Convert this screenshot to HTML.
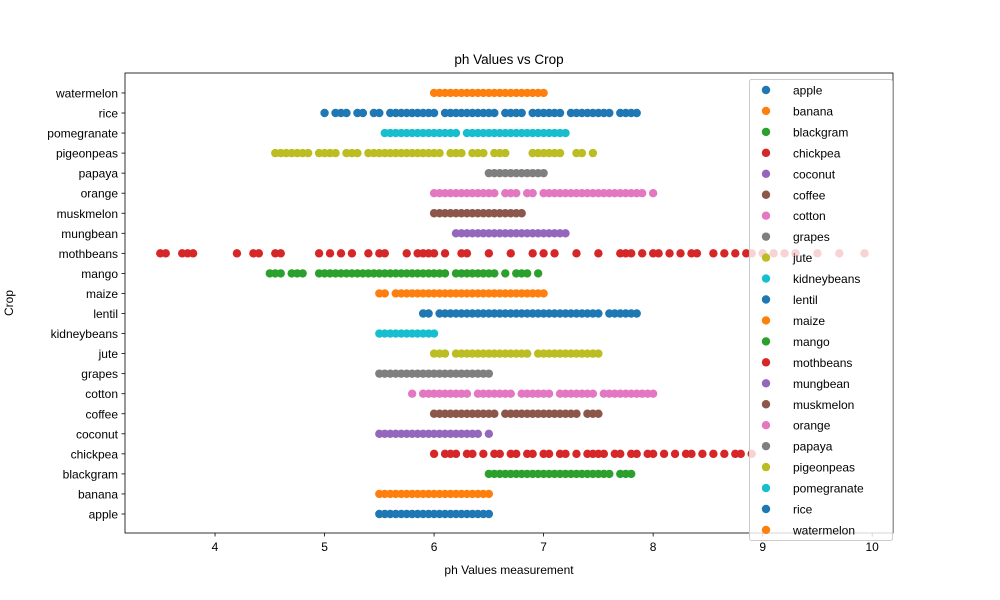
<!DOCTYPE html>
<html><head><meta charset="utf-8"><style>body{margin:0;background:#fff}svg{display:block;font-family:"Liberation Sans","DejaVu Sans",sans-serif}</style></head>
<body>
<svg id="chart" width="1000" height="600" xmlns="http://www.w3.org/2000/svg"></svg>
<script>
const crops=["apple","banana","blackgram","chickpea","coconut","coffee","cotton","grapes","jute","kidneybeans","lentil","maize","mango","mothbeans","mungbean","muskmelon","orange","papaya","pigeonpeas","pomegranate","rice","watermelon"];
const colors=["#1f77b4","#ff7f0e","#2ca02c","#d62728","#9467bd","#8c564b","#e377c2","#7f7f7f","#bcbd22","#17becf"];
const phApple=[5.5,5.55,5.6,5.65,5.7,5.75,5.8,5.85,5.9,5.95,6.0,6.05,6.1,6.15,6.2,6.25,6.3,6.35,6.4,6.45,6.5];
const phBanana=[5.5,5.55,5.6,5.65,5.7,5.75,5.8,5.85,5.9,5.95,6.0,6.05,6.1,6.15,6.2,6.25,6.3,6.35,6.4,6.45,6.5];
const phBlackgram=[6.5,6.55,6.6,6.65,6.7,6.75,6.8,6.85,6.9,6.95,7.0,7.05,7.1,7.15,7.2,7.25,7.3,7.35,7.4,7.45,7.5,7.55,7.6,7.7,7.75,7.8];
const phChickpea=[6.0,6.1,6.15,6.2,6.3,6.35,6.45,6.55,6.6,6.7,6.75,6.85,6.9,7.0,7.05,7.15,7.2,7.3,7.4,7.45,7.5,7.55,7.65,7.7,7.8,7.85,7.95,8.0,8.1,8.2,8.3,8.35,8.45,8.55,8.65,8.75,8.8,8.9];
const phCoconut=[5.5,5.55,5.6,5.65,5.7,5.75,5.8,5.85,5.9,5.95,6.0,6.05,6.1,6.15,6.2,6.25,6.3,6.35,6.4,6.5];
const phCoffee=[6.0,6.05,6.1,6.15,6.2,6.25,6.3,6.35,6.4,6.45,6.5,6.55,6.65,6.7,6.75,6.8,6.85,6.9,6.95,7.0,7.05,7.1,7.15,7.2,7.25,7.3,7.4,7.45,7.5];
const phCotton=[5.8,5.9,5.95,6.0,6.05,6.1,6.15,6.2,6.25,6.3,6.4,6.45,6.5,6.55,6.6,6.65,6.7,6.8,6.85,6.9,6.95,7.0,7.05,7.15,7.2,7.25,7.3,7.35,7.4,7.45,7.55,7.6,7.65,7.7,7.75,7.8,7.85,7.9,7.95,8.0];
const phGrapes=[5.5,5.55,5.6,5.65,5.7,5.75,5.8,5.85,5.9,5.95,6.0,6.05,6.1,6.15,6.2,6.25,6.3,6.35,6.4,6.45,6.5];
const phJute=[6.0,6.05,6.1,6.2,6.25,6.3,6.35,6.4,6.45,6.5,6.55,6.6,6.65,6.7,6.75,6.8,6.85,6.95,7.0,7.05,7.1,7.15,7.2,7.25,7.3,7.35,7.4,7.45,7.5];
const phKidneybeans=[5.5,5.55,5.6,5.65,5.7,5.75,5.8,5.85,5.9,5.95,6.0];
const phLentil=[5.9,5.95,6.05,6.1,6.15,6.2,6.25,6.3,6.35,6.4,6.45,6.5,6.55,6.6,6.65,6.7,6.75,6.8,6.85,6.9,6.95,7.0,7.05,7.1,7.15,7.2,7.25,7.3,7.35,7.4,7.45,7.5,7.6,7.65,7.7,7.75,7.8,7.85];
const phMaize=[5.5,5.55,5.65,5.7,5.75,5.8,5.85,5.9,5.95,6.0,6.05,6.1,6.15,6.2,6.25,6.3,6.35,6.4,6.45,6.5,6.55,6.6,6.65,6.7,6.75,6.8,6.85,6.9,6.95,7.0];
const phMango=[4.5,4.55,4.6,4.7,4.75,4.8,4.95,5.0,5.05,5.1,5.15,5.2,5.25,5.3,5.35,5.4,5.45,5.5,5.55,5.6,5.65,5.7,5.75,5.8,5.85,5.9,5.95,6.0,6.05,6.1,6.2,6.25,6.3,6.35,6.4,6.45,6.5,6.55,6.65,6.75,6.8,6.85,6.95];
const phMothbeans=[3.5,3.55,3.7,3.75,3.8,4.2,4.35,4.4,4.55,4.6,4.95,5.05,5.15,5.25,5.4,5.5,5.55,5.75,5.85,5.9,5.95,6.0,6.1,6.25,6.3,6.5,6.7,6.9,7.0,7.1,7.3,7.5,7.7,7.75,7.8,7.9,8.0,8.05,8.15,8.25,8.35,8.4,8.55,8.65,8.75,8.85,8.9,9.0,9.1,9.2,9.3,9.5,9.7,9.93];
const phMungbean=[6.2,6.25,6.3,6.35,6.4,6.45,6.5,6.55,6.6,6.65,6.7,6.75,6.8,6.85,6.9,6.95,7.0,7.05,7.1,7.15,7.2];
const phMuskmelon=[6.0,6.05,6.1,6.15,6.2,6.25,6.3,6.35,6.4,6.45,6.5,6.55,6.6,6.65,6.7,6.75,6.8];
const phOrange=[6.0,6.05,6.1,6.15,6.2,6.25,6.3,6.35,6.4,6.45,6.5,6.55,6.65,6.7,6.75,6.85,6.9,7.0,7.05,7.1,7.15,7.2,7.25,7.3,7.35,7.4,7.45,7.5,7.55,7.6,7.65,7.7,7.75,7.8,7.85,7.9,8.0];
const phPapaya=[6.5,6.55,6.6,6.65,6.7,6.75,6.8,6.85,6.9,6.95,7.0];
const phPigeonpeas=[4.55,4.6,4.65,4.7,4.75,4.8,4.85,4.95,5.0,5.05,5.1,5.2,5.25,5.3,5.4,5.45,5.5,5.55,5.6,5.65,5.7,5.75,5.8,5.85,5.9,5.95,6.0,6.05,6.15,6.2,6.25,6.35,6.4,6.45,6.55,6.6,6.65,6.9,6.95,7.0,7.05,7.1,7.15,7.3,7.35,7.45];
const phPomegranate=[5.55,5.6,5.65,5.7,5.75,5.8,5.85,5.9,5.95,6.0,6.05,6.1,6.15,6.2,6.3,6.35,6.4,6.45,6.5,6.55,6.6,6.65,6.7,6.75,6.8,6.85,6.9,6.95,7.0,7.05,7.1,7.15,7.2];
const phRice=[5.0,5.1,5.15,5.2,5.3,5.35,5.45,5.5,5.6,5.65,5.7,5.75,5.8,5.85,5.9,5.95,6.0,6.1,6.15,6.2,6.25,6.3,6.35,6.4,6.45,6.5,6.55,6.65,6.7,6.75,6.8,6.9,6.95,7.0,7.05,7.1,7.15,7.25,7.3,7.35,7.4,7.45,7.5,7.55,7.6,7.7,7.75,7.8,7.85];
const phWatermelon=[6.0,6.05,6.1,6.15,6.2,6.25,6.3,6.35,6.4,6.45,6.5,6.55,6.6,6.65,6.7,6.75,6.8,6.85,6.9,6.95,7.0];
const series=[phApple,phBanana,phBlackgram,phChickpea,phCoconut,phCoffee,phCotton,phGrapes,phJute,phKidneybeans,phLentil,phMaize,phMango,phMothbeans,phMungbean,phMuskmelon,phOrange,phPapaya,phPigeonpeas,phPomegranate,phRice,phWatermelon];
const xTicks=[4,5,6,7,8,9,10];

const NS="http://www.w3.org/2000/svg";
const svg=document.getElementById("chart");
const L=125,R=893,T=73,B=533;
const xMin=3.178,xMax=10.19;
const xs=v=>L+(v-xMin)/(xMax-xMin)*(R-L);
const ys=i=>514-i*20.05;
function mk(tag,attrs,parent){const e=document.createElementNS(NS,tag);for(const k in attrs)e.setAttribute(k,attrs[k]);(parent||svg).appendChild(e);return e;}

const t=mk("text",{x:(L+R)/2,y:64,"text-anchor":"middle","font-size":"13.5",fill:"#000"});t.textContent="ph Values vs Crop";



const plot=mk("g",{});


series.forEach((arr,i)=>{
  const g=mk("g",{fill:colors[i%10]},plot);
  
  
  arr.forEach(v=>{
    const c=mk("circle",{cx:xs(v),cy:ys(i),r:4.2},g);
    
    
  });
});

const frame=mk("rect",{x:L,y:T,width:R-L,height:B-T,fill:"none",stroke:"#000","stroke-width":0.8});



xTicks.forEach(v=>{
  const x=xs(v);
  const l=mk("line",{x1:x,x2:x,y1:B,y2:B+3.5,stroke:"#000","stroke-width":0.8});
  
  
  const tx=mk("text",{x:x,y:B+18,"text-anchor":"middle","font-size":"12",fill:"#000"});tx.textContent=v;
  
  
});
crops.forEach((c,i)=>{
  const y=ys(i);
  const l=mk("line",{x1:L-3.5,x2:L,y1:y,y2:y,stroke:"#000","stroke-width":0.8});
  
  
  const tx=mk("text",{x:L-7,y:y+4.5,"text-anchor":"end","font-size":"12",fill:"#000"});tx.textContent=c;
  
  
});
const xl=mk("text",{x:(L+R)/2,y:574,"text-anchor":"middle","font-size":"12",fill:"#000"});xl.textContent="ph Values measurement";


const yl=mk("text",{x:0,y:0,"text-anchor":"middle","font-size":"12",fill:"#000",transform:"translate(13,303) rotate(-90)"});yl.textContent="Crop";



const leg=mk("g",{});


const lb=mk("rect",{x:749.5,y:79.5,width:143,height:461,rx:2,fill:"#fff","fill-opacity":0.8,stroke:"#ccc","stroke-width":1},leg);


crops.forEach((c,i)=>{
  const y=90+i*20.95;
  const ge=mk("g",{},leg);
  
  
  mk("circle",{cx:766,cy:y,r:4.2,fill:colors[i%10]},ge);
  const tx=mk("text",{x:793,y:y+4.5,"font-size":"12",fill:"#000"},ge);tx.textContent=c;
});
</script>
</body></html>
